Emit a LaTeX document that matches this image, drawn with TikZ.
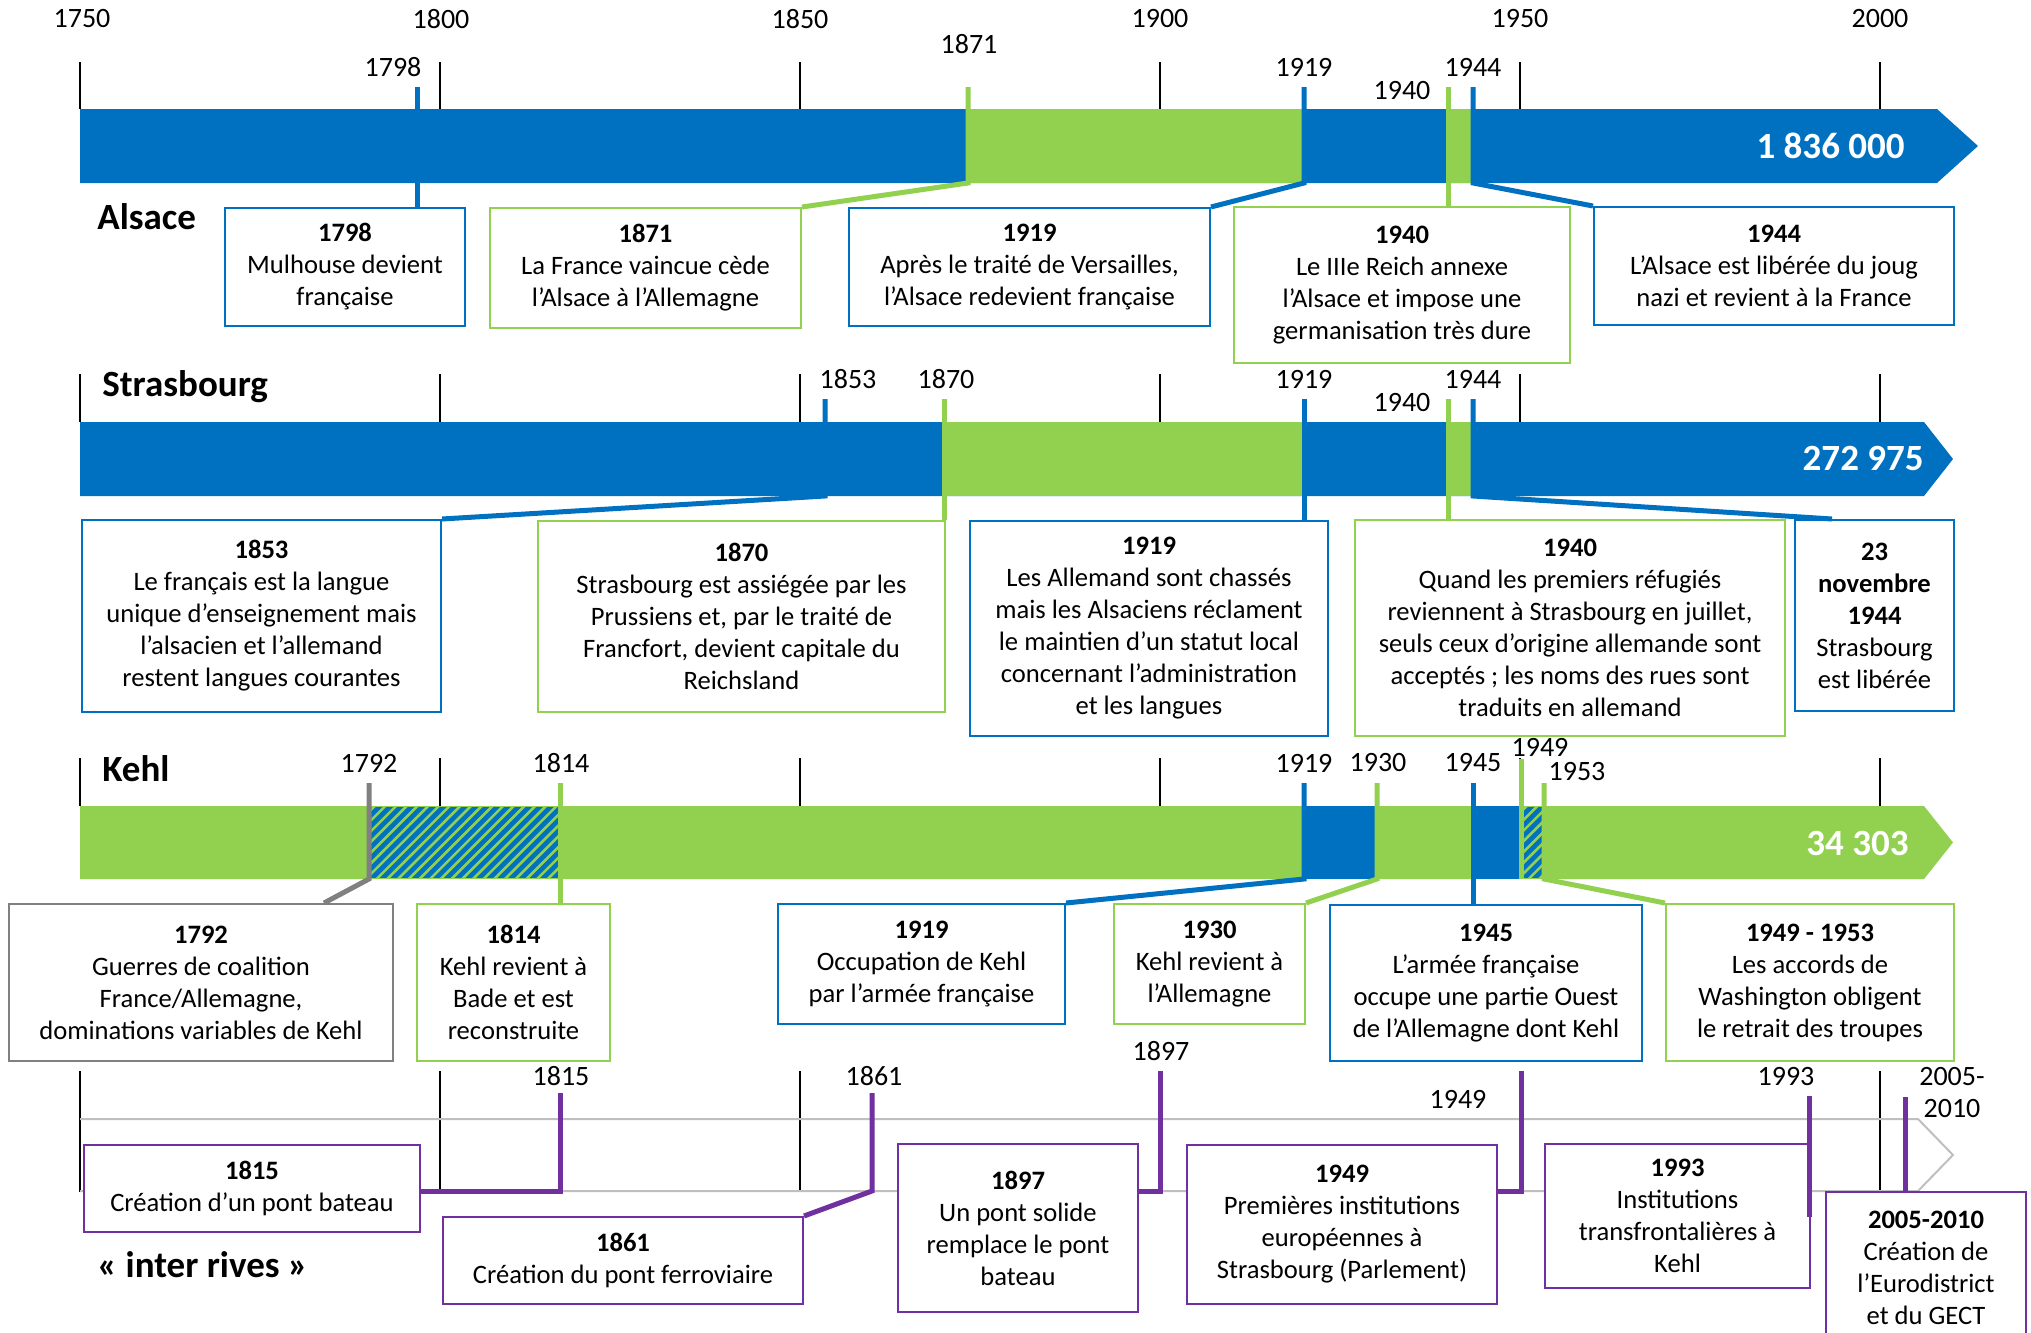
\documentclass[tikz,border=0pt]{standalone}
\usepackage{fontspec}
\setmainfont{Carlito}
\usetikzlibrary{calc}
\definecolor{cblue}{HTML}{0070C0}
\definecolor{cgreen}{HTML}{92D050}
\definecolor{cpurple}{HTML}{7030A0}
\definecolor{cgrey}{HTML}{808080}
\definecolor{clight}{HTML}{BFBFBF}
\begin{document}
\begin{tikzpicture}[x=0.5pt,y=-0.5pt,
  yr/.style={font=\fontsize{14}{16}\selectfont, inner sep=0},
  ttl/.style={font=\fontsize{18.5}{22}\selectfont\bfseries, anchor=west, inner sep=0},
  num/.style={font=\fontsize{18.5}{22}\selectfont\bfseries, text=white, anchor=east, inner sep=0},
  evbox/.style n args={3}{draw=#1, fill=white, line width=1pt, anchor=north west,
     minimum width=#2*0.5pt, minimum height=#3*0.5pt, inner sep=0, align=center,
     font=\fontsize{13.3}{16}\selectfont},
  mk/.style={draw=#1, line width=2.5pt},
  tk/.style={draw=black, line width=0.75pt},
  hatchline/.style={draw=cgreen, line width=1.3pt}
]
\useasboundingbox (0,0) rectangle (2031,1333);
\fill[white] (0,0) rectangle (2031,1333);

% ---------- axis labels ----------
\foreach \x/\y in {82/1750,441/1800,800/1850,1160/1900,1520/1950,1880/2000}
  \node[yr] (ax\y) at (\x,19) {\y};

% ---------- ticks ----------
\foreach \x in {80,440,800,1160,1520,1880}{
  \draw[tk] (\x,62) -- (\x,109);
  \draw[tk] (\x,374) -- (\x,422);
  \draw[tk] (\x,758) -- (\x,806);
  \draw[tk] (\x,1071) -- (\x,1192);
}

% ---------- bar bottoms ----------
\coordinate (aBot) at (0,183);
\coordinate (sBot) at (0,496);
\coordinate (kBot) at (0,879);
\coordinate (iBot) at (0,1191);
\coordinate (iLow) at (0,1217);

% ---------- Alsace bar ----------
\fill[cblue] (80,109) -- (1937,109) -- (1978,146) -- (1937,183) -- (80,183) -- cycle;
\fill[cgreen] (968,109) rectangle (1304,183);
\fill[cgreen] (1448,109) rectangle (1473,183);
\node[num] (nA) at (1905,146) {1 836 000};

% ---------- Strasbourg bar ----------
\fill[cblue] (80,422) -- (1924,422) -- (1953,459) -- (1924,496) -- (80,496) -- cycle;
\fill[cgreen] (944,422) rectangle (1304,496);
\fill[cgreen] (1448,422) rectangle (1473,496);
\node[num] (nS) at (1924,458) {272 975};

% ---------- Kehl bar ----------
\fill[cgreen] (80,806) -- (1924,806) -- (1953,842.5) -- (1924,879) -- (80,879) -- cycle;
\fill[cblue] (1304,806) rectangle (1377,879);
\fill[cblue] (1473,806) rectangle (1521,879);
\begin{scope}
  \clip (369,807) rectangle (560,878);
  \fill[cblue] (369,807) rectangle (560,878);
  \foreach \i in {0,...,26}{
    \pgfmathsetmacro\xx{290+10.7*\i}
    \draw[hatchline] (\xx,880) -- ++(75,-75);
  }
\end{scope}
\begin{scope}
  \clip (1521,807) rectangle (1544,878);
  \fill[cblue] (1521,807) rectangle (1544,878);
  \foreach \i in {0,...,9}{
    \pgfmathsetmacro\xx{1442+10.7*\i}
    \draw[hatchline] (\xx,880) -- ++(75,-75);
  }
\end{scope}
\node[num] (nK) at (1909,843) {34 303};

% ---------- inter rives outline ----------
\draw[clight, line width=1pt] (80,1119) -- (1918,1119) -- (1953,1155) -- (1918,1191) -- (80,1191);

% ---------- section titles ----------
\node[ttl] (tA) at (97,217) {Alsace};
\node[ttl] (tS) at (102,387) {Strasbourg};
\node[ttl] (tK) at (102,769) {Kehl};
\node[ttl] (tI) at (97,1265) {« inter rives »};

% ---------- Alsace boxes ----------
\node[evbox={cblue}{240}{118}] (b1798a) at (224,207) {\textbf{1798}\\Mulhouse devient\\française};
\node[evbox={cgreen}{311}{120}] (b1871a) at (489,207) {\textbf{1871}\\La France vaincue cède\\l’Alsace à l’Allemagne};
\node[evbox={cblue}{361}{118}] (b1919a) at (848,207) {\textbf{1919}\\Après le traité de Versailles,\\l’Alsace redevient française};
\node[evbox={cgreen}{336}{156}] (b1940a) at (1233,206) {\textbf{1940}\\Le IIIe Reich annexe\\l’Alsace et impose une\\germanisation très dure};
\node[evbox={cblue}{360}{118}] (b1944a) at (1593,206) {\textbf{1944}\\L’Alsace est libérée du joug\\nazi et revient à la France};

% ---------- Strasbourg boxes ----------
\node[evbox={cblue}{359}{192}] (b1853s) at (81,519) {\textbf{1853}\\Le français est la langue\\unique d’enseignement mais\\l’alsacien et l’allemand\\restent langues courantes};
\node[evbox={cgreen}{407}{191}] (b1870s) at (537,520) {\textbf{1870}\\Strasbourg est assiégée par les\\Prussiens et, par le traité de\\Francfort, devient capitale du\\Reichsland};
\node[evbox={cblue}{358}{215}] (b1919s) at (969,520) {\textbf{1919}\\Les Allemand sont chassés\\mais les Alsaciens réclament\\le maintien d’un statut local\\concernant l’administration\\et les langues};
\node[evbox={cgreen}{430}{216}] (b1940s) at (1354,519) {\textbf{1940}\\Quand les premiers réfugiés\\reviennent à Strasbourg en juillet,\\seuls ceux d’origine allemande sont\\acceptés ; les noms des rues sont\\traduits en allemand};
\node[evbox={cblue}{159}{191}] (b1944s) at (1794,519) {\textbf{23}\\\textbf{novembre}\\\textbf{1944}\\Strasbourg\\est libérée};

% ---------- Kehl boxes ----------
\node[evbox={cgrey}{384}{157}] (b1792k) at (8,903) {\textbf{1792}\\Guerres de coalition\\France/Allemagne,\\dominations variables de Kehl};
\node[evbox={cgreen}{193}{157}] (b1814k) at (416,903) {\textbf{1814}\\Kehl revient à\\Bade et est\\reconstruite};
\node[evbox={cblue}{287}{120}] (b1919k) at (777,903) {\textbf{1919}\\Occupation de Kehl\\par l’armée française};
\node[evbox={cgreen}{191}{120}] (b1930k) at (1113,903) {\textbf{1930}\\Kehl revient à\\l’Allemagne};
\node[evbox={cblue}{312}{156}] (b1945k) at (1329,904) {\textbf{1945}\\L’armée française\\occupe une partie Ouest\\de l’Allemagne dont Kehl};
\node[evbox={cgreen}{288}{157}] (b1949k) at (1665,903) {\textbf{1949 - 1953}\\Les accords de\\Washington obligent\\le retrait des troupes};

% ---------- inter rives boxes ----------
\node[evbox={cpurple}{336}{87}] (b1815i) at (83,1144) {\textbf{1815}\\Création d’un pont bateau};
\node[evbox={cpurple}{360}{87}] (b1861i) at (442,1216) {\textbf{1861}\\Création du pont ferroviaire};
\node[evbox={cpurple}{240}{168}] (b1897i) at (897,1143) {\textbf{1897}\\Un pont solide\\remplace le pont\\bateau};
\node[evbox={cpurple}{310}{159}] (b1949i) at (1186,1144) {\textbf{1949}\\Premières institutions\\européennes à\\Strasbourg (Parlement)};
\node[evbox={cpurple}{265}{144}] (b1993i) at (1544,1143) {\textbf{1993}\\Institutions\\transfrontalières à\\Kehl};
\node[evbox={cpurple}{200}{152}] (b2005i) at (1825,1191) {\textbf{2005-2010}\\Création de\\l’Eurodistrict\\et du GECT};

% ---------- Alsace markers ----------
\coordinate (m1798a) at (417,87);
\coordinate (m1871a) at (968,87);
\coordinate (m1919a) at (1304,87);
\coordinate (m1940a) at (1448,87);
\coordinate (m1944a) at (1473,87);
\draw[mk=cblue] (m1798a) -- (m1798a |- b1798a.north);
\draw[mk=cgreen] (m1871a) -- (m1871a |- aBot) -- (b1871a.north east);
\draw[mk=cblue] (m1919a) -- (m1919a |- aBot) -- (b1919a.north east);
\draw[mk=cgreen] (m1940a) -- (m1940a |- b1940a.north);
\draw[mk=cblue] (m1944a) -- (m1944a |- aBot) -- (b1944a.north west);
\node[yr] (l1798a) at (393,67) {1798};
\node[yr] (l1871a) at (969,44) {1871};
\node[yr] (l1919a) at (1304,67) {1919};
\node[yr] (l1940a) at (1402,91) {1940};
\node[yr] (l1944a) at (1473,67) {1944};

% ---------- Strasbourg markers ----------
\coordinate (m1853s) at (825,399);
\coordinate (m1870s) at (944,399);
\coordinate (m1919s) at (1304,399);
\coordinate (m1940s) at (1448,399);
\coordinate (m1944s) at (1473,399);
\draw[mk=cblue] (m1853s) -- (m1853s |- sBot) -- (b1853s.north east);
\draw[mk=cgreen] (m1870s) -- (m1870s |- b1870s.north);
\draw[mk=cblue] (m1919s) -- (m1919s |- b1919s.north);
\draw[mk=cgreen] (m1940s) -- (m1940s |- b1940s.north);
\draw[mk=cblue] (m1944s) -- (m1944s |- sBot) -- ([xshift=19pt]b1944s.north west);
\node[yr] (l1853s) at (848,379) {1853};
\node[yr] (l1870s) at (946,379) {1870};
\node[yr] (l1919s) at (1304,379) {1919};
\node[yr] (l1940s) at (1402,403) {1940};
\node[yr] (l1944s) at (1473,379) {1944};

% ---------- Kehl markers ----------
\coordinate (m1792k) at (369,783);
\coordinate (m1814k) at (560,783);
\coordinate (m1919k) at (1304,783);
\coordinate (m1930k) at (1377,783);
\coordinate (m1945k) at (1473,783);
\coordinate (m1949k) at (1521,759);
\coordinate (m1953k) at (1544,783);
\draw[mk=cgrey] (m1792k) -- (m1792k |- kBot) -- ([xshift=-35pt]b1792k.north east);
\draw[mk=cgreen] (m1814k) -- (m1814k |- b1814k.north);
\draw[mk=cblue] (m1919k) -- (m1919k |- kBot) -- (b1919k.north east);
\draw[mk=cgreen] (m1930k) -- (m1930k |- kBot) -- (b1930k.north east);
\draw[mk=cblue] (m1945k) -- (m1945k |- b1945k.north);
\draw[mk=cgreen] (m1949k) -- (m1949k |- kBot);
\draw[mk=cgreen] (m1953k) -- (m1953k |- kBot) -- (b1949k.north west);
\node[yr] (l1792k) at (369,763) {1792};
\node[yr] (l1814k) at (561,763) {1814};
\node[yr] (l1919k) at (1304,763) {1919};
\node[yr] (l1930k) at (1378,763) {1930};
\node[yr] (l1945k) at (1473,763) {1945};
\node[yr] (l1949k) at (1540,747) {1949};
\node[yr] (l1953k) at (1577,772) {1953};

% ---------- inter rives markers ----------
\coordinate (m1815i) at (560,1093);
\coordinate (m1861i) at (872,1093);
\coordinate (m1897i) at (1160,1071);
\coordinate (m1949i) at (1521,1071);
\coordinate (m1993i) at (1809,1096);
\coordinate (m2005i) at (1905,1097);
\draw[mk=cpurple] (m1815i) -- (m1815i |- iBot) -- (b1815i.east |- iBot);
\draw[mk=cpurple] (m1861i) -- (m1861i |- iBot) -- (b1861i.north east);
\draw[mk=cpurple] (m1897i) -- (m1897i |- iBot) -- (b1897i.east |- iBot);
\draw[mk=cpurple] (m1949i) -- (m1949i |- iBot) -- (b1949i.east |- iBot);
\draw[mk=cpurple] (m1993i) -- (m1993i |- iLow);
\draw[mk=cpurple] (m2005i) -- (m2005i |- b2005i.north);
\node[yr] (l1815i) at (561,1076) {1815};
\node[yr] (l1861i) at (874,1076) {1861};
\node[yr] (l1897i) at (1161,1051) {1897};
\node[yr] (l1949i) at (1458,1099) {1949};
\node[yr] (l1993i) at (1786,1077) {1993};
\node[yr, align=center, font=\fontsize{14}{16}\selectfont] (l2005i) at (1952,1093) {2005-\\2010};
\end{tikzpicture}
\end{document}
